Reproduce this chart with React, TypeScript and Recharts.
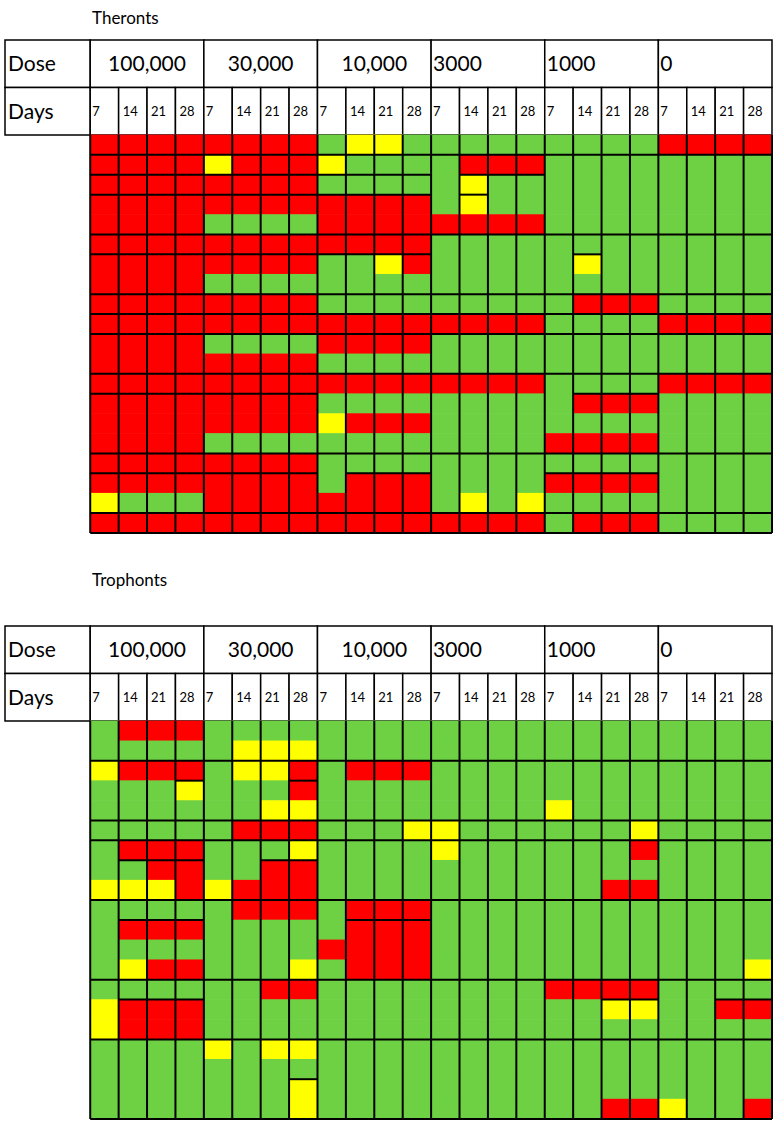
import { ReferenceArea, ReferenceLine, Scatter, ScatterChart, XAxis, YAxis } from "recharts";

// dose groups and sampling days (header)
const DOSES = ["100,000", "30,000", "10,000", "3000", "1000", "0"];
const DAYS = ["7", "14", "21", "28"];

// R = red, G = green, Y = yellow ; one string per row, 6 dose groups x 4 days
const THERONTS = [
  "RRRR RRRR GYYG GGGG GGGG RRRR",
  "RRRR YRRR YGGG GRRR GGGG GGGG",
  "RRRR RRRR GGGG GYGG GGGG GGGG",
  "RRRR RRRR RRRR GYGG GGGG GGGG",
  "RRRR GGGG RRRR RRRR GGGG GGGG",
  "RRRR RRRR RRRR GGGG GGGG GGGG",
  "RRRR RRRR GGYR GGGG GYGG GGGG",
  "RRRR GGGG GGGG GGGG GGGG GGGG",
  "RRRR RRRR GGGG GGGG GRRR GGGG",
  "RRRR RRRR RRRR RRRR GGGG RRRR",
  "RRRR GGGG RRRR GGGG GGGG GGGG",
  "RRRR RRRR GGGG GGGG GGGG GGGG",
  "RRRR RRRR RRRR RRRR GGGG RRRR",
  "RRRR RRRR GGGG GGGG GRRR GGGG",
  "RRRR RRRR YRRR GGGG GGGG GGGG",
  "RRRR GGGG GGGG GGGG RRRR GGGG",
  "RRRR RRRR GGGG GGGG GGGG GGGG",
  "RRRR RRRR GRRR GGGG RRRR GGGG",
  "YGGG RRRR RRRR GYGY GGGG GGGG",
  "RRRR RRRR RRRR RRRR GRRR GGGG",
];

const TROPHONTS = [
  "GRRR GGGG GGGG GGGG GGGG GGGG",
  "GGGG GYYY GGGG GGGG GGGG GGGG",
  "YRRR GYYR GRRR GGGG GGGG GGGG",
  "GGGY GGGR GGGG GGGG GGGG GGGG",
  "GGGG GGYY GGGG GGGG YGGG GGGG",
  "GGGG GRRR GGGY YGGG GGGY GGGG",
  "GRRR GGGY GGGG YGGG GGGR GGGG",
  "GGRR GGRR GGGG GGGG GGGG GGGG",
  "YYYR YRRR GGGG GGGG GGRR GGGG",
  "GGGG GRRR GRRR GGGG GGGG GGGG",
  "GRRR GGGG GRRR GGGG GGGG GGGG",
  "GGGG GGGG RRRR GGGG GGGG GGGG",
  "GYRR GGGY GRRR GGGG GGGG GGGY",
  "GGGG GGRR GGGG GGGG RRRR GGGG",
  "YRRR GGGG GGGG GGGG GGYY GGRR",
  "YRRR GGGG GGGG GGGG GGGG GGGG",
  "GGGG YGYY GGGG GGGG GGGG GGGG",
  "GGGG GGGG GGGG GGGG GGGG GGGG",
  "GGGG GGGY GGGG GGGG GGGG GGGG",
  "GGGG GGGY GGGG GGGG GGRR YGGR",
];

// cell borders between rows: [row boundary, from column, to column]
const THERONTS_RULES = [
  [1, 0, 24], [2, 0, 12], [2, 13, 16], [3, 0, 12], [3, 13, 14], [5, 0, 24],
  [6, 0, 12], [6, 17, 18], [8, 0, 24], [9, 0, 24], [10, 0, 24], [12, 0, 24],
  [13, 0, 8], [13, 17, 20], [16, 0, 24], [17, 0, 8], [17, 9, 12], [17, 16, 20],
  [19, 0, 24], [20, 0, 24],
];
const TROPHONTS_RULES = [
  [2, 0, 24], [3, 3, 4], [3, 7, 8], [5, 0, 24], [6, 0, 24], [7, 1, 4], [7, 6, 8],
  [9, 0, 24], [10, 1, 4], [10, 9, 12], [13, 0, 24], [14, 1, 4], [14, 18, 20],
  [14, 22, 24], [16, 0, 24], [18, 7, 8], [20, 0, 24],
];

const COLORS: Record<string, string> = { R: "#FF0000", G: "#6DD143", Y: "#FFFF00" };
const FONT = "Lato, 'Open Sans', sans-serif";

const W = 784;
const H = 560;
const M = { top: 40, right: 12, left: 5, bottom: 27 };
const X_DOM: [number, number] = [-3, 24];
const HEAD = 2.385; // header row height in data rows
const Y_DOM: [number, number] = [-2 * HEAD, 20];
const CW = (W - M.left - M.right) / (X_DOM[1] - X_DOM[0]);
const CH = (H - M.top - M.bottom) / (Y_DOM[1] - Y_DOM[0]);

function Cell(props: any) {
  const { cx, cy, payload } = props;
  return (
    <rect
      x={cx - CW / 2 - 0.3}
      y={cy - CH / 2 - 0.3}
      width={CW + 0.6}
      height={CH + 0.6}
      fill={COLORS[payload.s]}
    />
  );
}

function Panel({ rows, rules }: { rows: string[]; rules: number[][] }) {
  const cells = rows.flatMap((row, r) =>
    row
      .replace(/ /g, "")
      .split("")
      .map((s, c) => ({ x: c + 0.5, y: r + 0.5, s }))
  );
  const cols = Array.from({ length: 25 }, (_, i) => i);
  const lbl = (value: string, position: string, size: number, offset = 3) => ({
    value,
    position,
    offset,
    fontSize: size,
    fill: "#000",
    fontFamily: FONT,
  });

  return (
    <ScatterChart width={W} height={H} margin={M}>
      <XAxis type="number" dataKey="x" domain={X_DOM} hide allowDataOverflow />
      <YAxis type="number" dataKey="y" domain={Y_DOM} reversed hide allowDataOverflow />
      <Scatter data={cells} shape={Cell} isAnimationActive={false} />

      {/* header */}
      <ReferenceArea x1={-3} x2={0} y1={-2 * HEAD} y2={-HEAD} fill="#fff" fillOpacity={1} stroke="#000" strokeWidth={1.5} label={lbl("Dose", "insideLeft", 21)} />
      <ReferenceArea x1={-3} x2={0} y1={-HEAD} y2={0} fill="#fff" fillOpacity={1} stroke="#000" strokeWidth={1.5} label={lbl("Days", "insideLeft", 21)} />
      {DOSES.map((d, g) => (
        <ReferenceArea
          key={"d" + g}
          x1={g * 4}
          x2={g * 4 + 4}
          y1={-2 * HEAD}
          y2={-HEAD}
          fill="#fff"
          fillOpacity={1}
          stroke="#000"
          strokeWidth={1.5}
          label={lbl(d, g < 3 ? "center" : "insideLeft", 21, 2)}
        />
      ))}
      {DOSES.flatMap((_, g) =>
        DAYS.map((day, k) => (
          <ReferenceArea
            key={"t" + g + k}
            x1={g * 4 + k}
            x2={g * 4 + k + 1}
            y1={-HEAD}
            y2={0}
            fill="#fff"
            fillOpacity={1}
            stroke="#000"
            strokeWidth={1.5}
            label={lbl(day, "insideLeft", 13, k === 0 ? 2 : 4)}
          />
        ))
      )}

      {/* grid over the cells */}
      {cols.map((i) => (
        <ReferenceLine
          key={"v" + i}
          segment={[{ x: i, y: 0 }, { x: i, y: 20 }]}
          stroke="#000"
          strokeWidth={2}
          ifOverflow="visible"
          zIndex={1000}
        />
      ))}
      {rules.map(([b, a, z], i) => (
        <ReferenceLine
          key={"h" + i}
          segment={[{ x: a, y: b }, { x: z, y: b }]}
          stroke="#000"
          strokeWidth={2}
          ifOverflow="visible"
          zIndex={1000}
        />
      ))}
    </ScatterChart>
  );
}

export default function App() {
  const title = { position: "absolute" as const, left: 92, fontFamily: FONT, fontSize: 17, color: "#000", lineHeight: "20px" };
  return (
    <div style={{ position: "absolute", left: 0, top: 0, width: 784, height: 1134, background: "#fff" }}>
      <div style={{ position: "absolute", left: 0, top: 0 }}>
        <Panel rows={THERONTS} rules={THERONTS_RULES} />
      </div>
      <div style={{ position: "absolute", left: 0, top: 586 }}>
        <Panel rows={TROPHONTS} rules={TROPHONTS_RULES} />
      </div>
      <div style={{ ...title, top: 8 }}>Theronts</div>
      <div style={{ ...title, top: 570 }}>Trophonts</div>
    </div>
  );
}
